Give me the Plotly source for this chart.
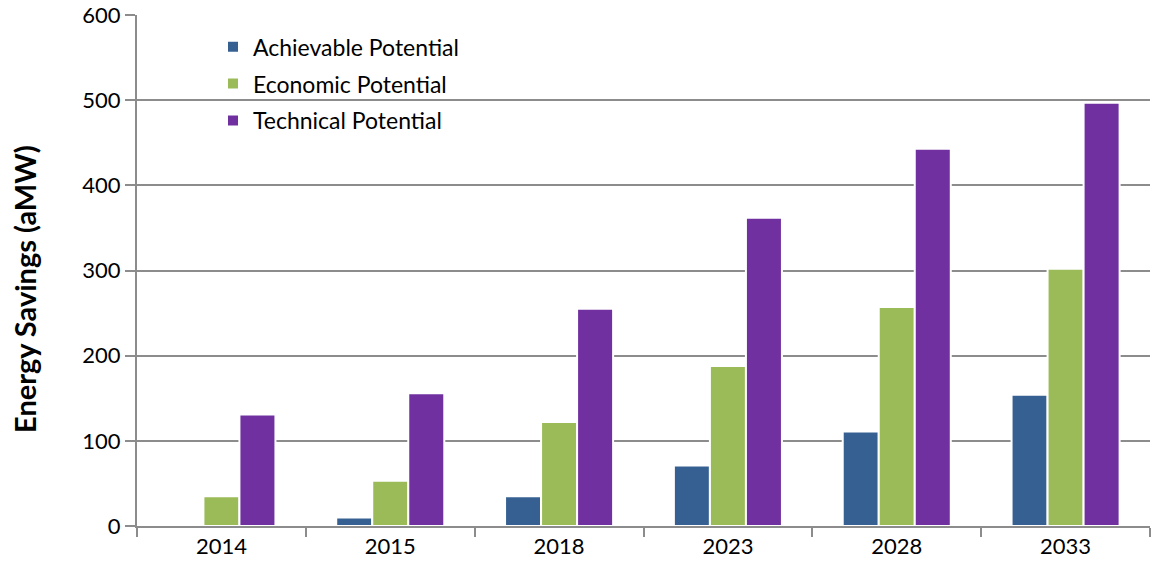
import plotly.graph_objects as go

years = ["2014", "2015", "2018", "2023", "2028", "2033"]
achievable = [1, 10, 35, 71, 111, 154]
economic = [35, 53, 122, 188, 257, 302]
technical = [131, 156, 255, 362, 443, 497]
y_ticks = [0, 100, 200, 300, 400, 500, 600]

FONT = "Lato"
GRID = "#8c8c8c"

fig = go.Figure()
series = [
    ("Achievable Potential", achievable, "#366092"),
    ("Economic Potential", economic, "#9BBB59"),
    ("Technical Potential", technical, "#7030A0"),
]
for i, (name, vals, col) in enumerate(series):
    fig.add_trace(go.Bar(
        x=years, y=vals, name=name, legendgroup=f"g{i}",
        marker=dict(color=col, line=dict(color="white", width=2)),
    ))

fig.add_shape(type="rect", xref="paper", yref="paper",
              x0=0.0188, x1=0.4067, y0=0.76, y1=0.97,
              fillcolor="white", line=dict(width=0), layer="between")

fig.add_annotation(text="<b>Energy Savings (aMW)</b>", xref="paper", yref="paper",
                   x=-0.1106, y=0.4638, xanchor="center", yanchor="middle",
                   textangle=-90, showarrow=False,
                   font=dict(size=29, family=FONT, color="black"))

fig.update_layout(
    width=1152, height=571,
    margin=dict(l=137, r=2, t=15, b=45),
    paper_bgcolor="white", plot_bgcolor="white",
    barmode="group", bargap=0.36, bargroupgap=0,
    font=dict(family=FONT, size=22, color="black"),
    legend=dict(x=0.075, y=0.98, xanchor="left", yanchor="top",
                bgcolor="rgba(0,0,0,0)", font=dict(size=23, family=FONT),
                tracegroupgap=4),
    showlegend=True,
)
fig.update_xaxes(
    showline=True, linecolor=GRID, linewidth=2,
    ticks="outside", tickson="boundaries", ticklen=9, tickcolor=GRID, tickwidth=2,
    tickfont=dict(size=22, family=FONT), showgrid=False,
)
fig.update_yaxes(
    range=[0, 600], tickvals=y_ticks,
    showgrid=True, gridcolor=GRID, gridwidth=1.5,
    showline=True, linecolor=GRID, linewidth=2,
    ticks="outside", ticklen=10, tickcolor=GRID, tickwidth=2,
    tickfont=dict(size=22, family=FONT), zeroline=False,
)
fig.write_html("out.html", config={"displayModeBar": False},
               post_script="document.body.style.margin='0';")
